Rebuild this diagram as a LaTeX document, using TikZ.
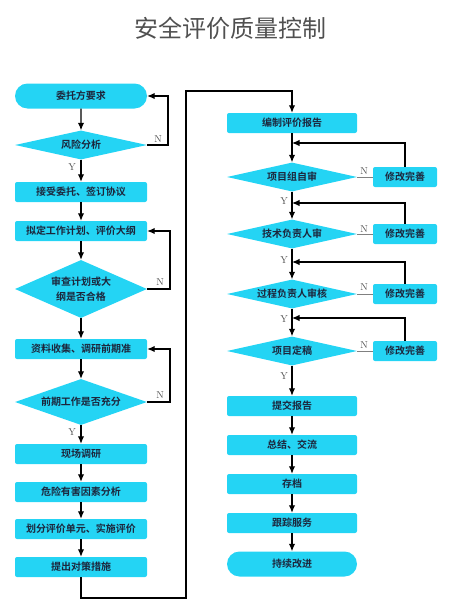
\documentclass[tikz,border=0pt]{standalone}
\usepackage{fontspec}
\newfontfamily\cjk{Noto Sans CJK SC}
\newfontfamily\cjkb{Noto Sans CJK SC Bold}
\usetikzlibrary{arrows.meta,shapes.geometric,shapes.misc}
\definecolor{boxcyan}{RGB}{36,212,244}
\definecolor{txt}{RGB}{28,38,60}
\definecolor{ttl}{RGB}{80,80,80}
\tikzset{
  procbox/.style={rectangle,rounded corners=2pt,fill=boxcyan,minimum width=132pt,minimum height=20pt,inner sep=0pt,font=\cjkb\fontsize{10pt}{12pt}\selectfont,text=txt},
  fixbox/.style={procbox,minimum width=64pt},
  termbox/.style={rounded rectangle,fill=boxcyan,minimum width=132pt,minimum height=25pt,inner sep=0pt,font=\cjkb\fontsize{10pt}{12pt}\selectfont,text=txt},
  decbox/.style={diamond,fill=boxcyan,aspect=4.5,minimum width=132pt,minimum height=29pt,inner sep=0pt,font=\cjkb\fontsize{10pt}{12pt}\selectfont,text=txt,align=center},
  arr/.style={-{Latex[length=7.5pt,width=6.5pt]},line width=1.2pt,black},
  ln/.style={line width=1.2pt,black},
  thinln/.style={line width=0.9pt,gray},
  yn/.style={font=\fontsize{10pt}{12pt}\selectfont,text=ttl,inner sep=0pt}
}
\begin{document}
\begin{tikzpicture}[x=1pt,y=-1pt]
\useasboundingbox (0,0) rectangle (461,608);
\node[font=\cjk\fontsize{24pt}{28pt}\selectfont,text=ttl] (title) at (230,28) {安全评价质量控制};
% left column
\node[termbox] (a1) at (81,96) {委托方要求};
\node[decbox] (a2) at (81,145) {风险分析};
\node[procbox] (a3) at (81,192) {接受委托、签订协议};
\node[procbox] (a4) at (81,231) {拟定工作计划、评价大纲};
\node[decbox,minimum height=58pt,aspect=2.3] (a5) at (81,289) {审查计划或大\\[3pt]纲是否合格};
\node[procbox] (a6) at (81,349) {资料收集、调研前期准};
\node[decbox,minimum height=46pt,aspect=2.9] (a7) at (81,402) {前期工作是否充分};
\node[procbox] (a8) at (81,454) {现场调研};
\node[procbox] (a9) at (81,492) {危险有害因素分析};
\node[procbox] (a10) at (81,529) {划分评价单元、实施评价};
\node[procbox] (a11) at (81,567) {提出对策措施};
% right column
\node[procbox,minimum width=130pt] (b1) at (292,123) {编制评价报告};
\node[decbox,minimum width=130pt] (b2) at (292,177) {项目组自审};
\node[decbox,minimum width=130pt] (b3) at (292,234) {技术负责人审};
\node[decbox,minimum width=130pt] (b4) at (292,294) {过程负责人审核};
\node[decbox,minimum width=130pt] (b5) at (292,351) {项目定稿};
\node[procbox,minimum width=130pt] (b6) at (292,406) {提交报告};
\node[procbox,minimum width=130pt] (b7) at (292,445) {总结、交流};
\node[procbox,minimum width=130pt] (b8) at (292,484) {存档};
\node[procbox,minimum width=130pt] (b9) at (292,523) {跟踪服务};
\node[termbox,minimum width=130pt] (b10) at (292,564) {持续改进};
\node[fixbox] (f1) at (405,177) {修改完善};
\node[fixbox] (f2) at (405,234) {修改完善};
\node[fixbox] (f3) at (405,294) {修改完善};
\node[fixbox] (f4) at (405,351) {修改完善};
% left main flow
\draw[arr] (a1) -- (a2);
\draw[arr] (a2) -- (a3);
\draw[arr] (a3) -- (a4);
\draw[arr] (a4) -- (a5);
\draw[arr] (a5) -- (a6);
\draw[arr] (a6) -- (a7);
\draw[arr] (a7) -- (a8);
\draw[arr] (a8) -- (a9);
\draw[arr] (a9) -- (a10);
\draw[arr] (a10) -- (a11);
% left feedback
\coordinate (k1) at (168,145);
\coordinate (k2) at (170,289);
\coordinate (k3) at (170,402);
\draw[arr] (a2.east) -- (k1) |- (a1.east);
\draw[arr] (a5.east) -- (k2) |- (a4.east);
\draw[arr] (a7.east) -- (k3) |- (a6.east);
\node[yn] (n1) at (158,139) {N};
\node[yn] (n2) at (160,282) {N};
\node[yn] (n3) at (160,395) {N};
\node[yn] (y1) at (72,167) {Y};
\node[yn] (y2) at (72,432) {Y};
% cross connector
\coordinate (c1) at (186,598);
\coordinate (c2) at (186,91);
\draw[arr] (a11.south) |- (c1) -- (c2) -| (b1.north);
% right main flow
\draw[arr] (b1) -- (b2);
\draw[arr] (b2) -- (b3);
\draw[arr] (b3) -- (b4);
\draw[arr] (b4) -- (b5);
\draw[arr] (b5) -- (b6);
\draw[arr] (b6) -- (b7);
\draw[arr] (b7) -- (b8);
\draw[arr] (b8) -- (b9);
\draw[arr] (b9) -- (b10);
% right N branches
\draw[thinln] (b2.east) -- (f1.west);
\draw[thinln] (b3.east) -- (f2.west);
\draw[thinln] (b4.east) -- (f3.west);
\draw[thinln] (b5.east) -- (f4.west);
\coordinate (m1) at (292,143);
\coordinate (m2) at (292,203);
\coordinate (m3) at (292,262);
\coordinate (m4) at (292,318);
\draw[arr] (f1.north) |- (m1);
\draw[arr] (f2.north) |- (m2);
\draw[arr] (f3.north) |- (m3);
\draw[arr] (f4.north) |- (m4);
\node[yn] (rn1) at (364,171) {N};
\node[yn] (rn2) at (364,229) {N};
\node[yn] (rn3) at (364,287) {N};
\node[yn] (rn4) at (364,345) {N};
\node[yn] (ry1) at (284,201) {Y};
\node[yn] (ry2) at (284,260) {Y};
\node[yn] (ry3) at (284,319) {Y};
\node[yn] (ry4) at (284,376) {Y};
\end{tikzpicture}
\end{document}
